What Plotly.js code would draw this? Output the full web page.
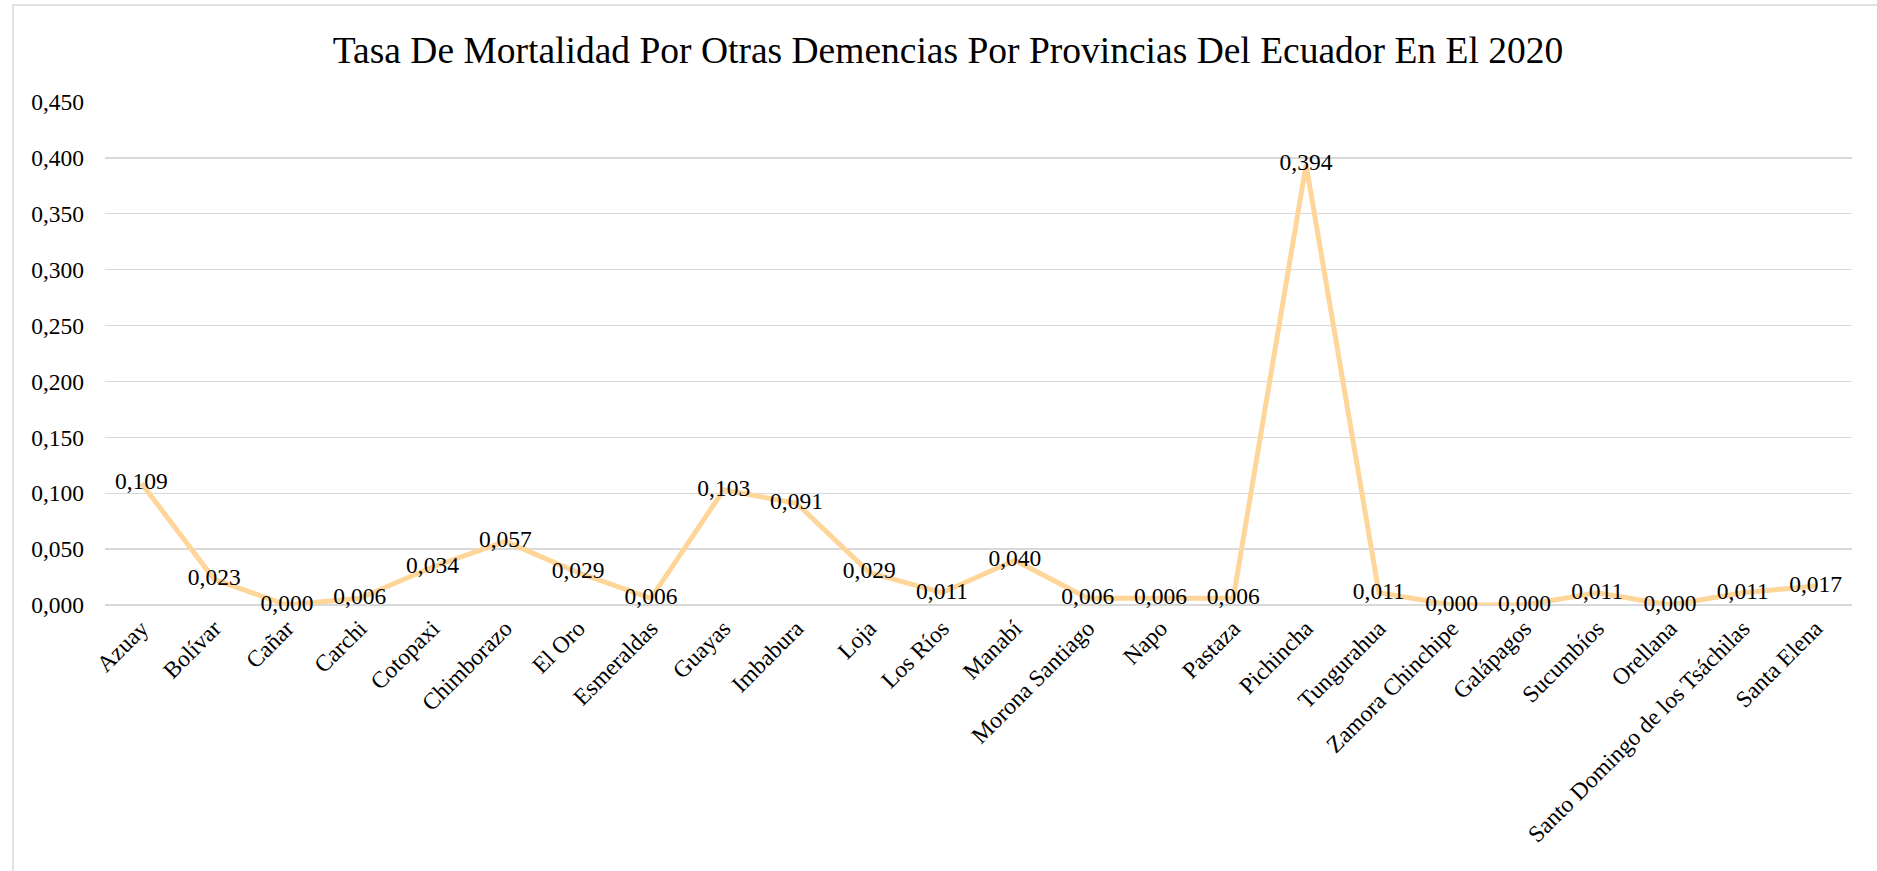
<!DOCTYPE html>
<html>
<head>
<meta charset="utf-8">
<script src="https://cdn.plot.ly/plotly-3.0.1.min.js"></script>
<style>html,body{margin:0;padding:0;background:#fff;}#chart{width:1877px;height:871px;}</style>
</head>
<body>
<div id="chart"></div>
<script>
const provincias = ["Azuay","Bolívar","Cañar","Carchi","Cotopaxi","Chimborazo","El Oro","Esmeraldas","Guayas","Imbabura","Loja","Los Ríos","Manabí","Morona Santiago","Napo","Pastaza","Pichincha","Tungurahua","Zamora Chinchipe","Galápagos","Sucumbíos","Orellana","Santo Domingo de los Tsáchilas","Santa Elena"];
const tasas = [0.109,0.023,0.000,0.006,0.034,0.057,0.029,0.006,0.103,0.091,0.029,0.011,0.040,0.006,0.006,0.006,0.394,0.011,0.000,0.000,0.011,0.000,0.011,0.017];
const yTicks = [0,0.05,0.1,0.15,0.2,0.25,0.3,0.35,0.4,0.45];
const titulo = "Tasa De Mortalidad Por Otras Demencias Por Provincias Del Ecuador En El 2020";

const FONT = "Liberation Serif, Times New Roman, serif";
const etiquetas = tasas.map(v => v.toFixed(3).replace('.', ','));

const W = 1877, H = 871, L = 105, R = 25, T = 102, B = 266;
const pw = W - L - R, ph = H - T - B;

Plotly.newPlot('chart', [{
  type: 'scatter',
  mode: 'lines+text',
  x: provincias,
  y: tasas,
  text: etiquetas,
  textposition: 'middle center',
  textfont: {family: FONT, size: 23.5, color: '#000'},
  line: {color: 'rgb(255,214,153)', width: 5},
  cliponaxis: false,
  hoverinfo: 'none'
}], {
  width: W, height: H,
  margin: {l: L, r: R, t: T, b: B},
  paper_bgcolor: '#fff', plot_bgcolor: '#fff',
  separators: ',.',
  showlegend: false,
  title: {
    text: titulo,
    font: {family: FONT, size: 37.5, color: '#000'},
    x: 948/W, xref: 'container', xanchor: 'center',
    y: 1 - 50/H, yref: 'container', yanchor: 'middle'
  },
  xaxis: {
    type: 'category',
    range: [-0.5, provincias.length - 0.5],
    tickangle: -45,
    tickfont: {family: FONT, size: 23.5, color: '#000'},
    showgrid: false, zeroline: false, showline: false,
    ticks: '', ticklabelstandoff: 4, fixedrange: true
  },
  yaxis: {
    range: [0, 0.45],
    tickvals: yTicks,
    tickformat: '.3f',
    tickfont: {family: FONT, size: 23.5, color: '#000'},
    gridcolor: '#d9d9d9', gridwidth: 1.3,
    zeroline: true, zerolinecolor: '#d9d9d9', zerolinewidth: 1.3,
    showline: false, ticks: '',
    ticklabelstandoff: 20,
    fixedrange: true
  },
  shapes: [{
    type: 'rect', xref: 'paper', yref: 'paper',
    x0: (13 - L) / pw, x1: (W + 20 - L) / pw,
    y0: (T + ph - (H + 20)) / ph, y1: (T + ph - 5) / ph,
    line: {color: '#d9d9d9', width: 1.5},
    fillcolor: 'rgba(0,0,0,0)', layer: 'below'
  }]
}, {displayModeBar: false, staticPlot: true});
</script>
</body>
</html>
